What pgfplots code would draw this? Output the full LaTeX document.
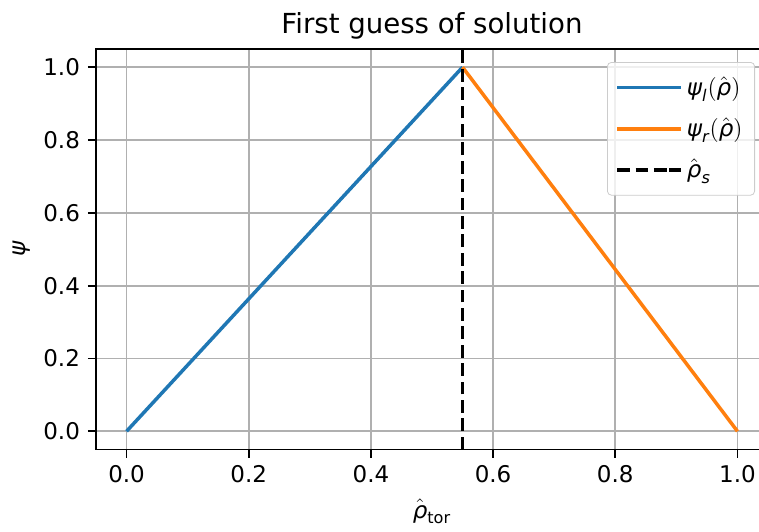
\documentclass[border=0pt]{standalone}
\usepackage{amsmath}
\usepackage{pgfplots}
\pgfplotsset{compat=1.18}
\usepackage{fontspec}
\setmainfont{DejaVu Sans}
\definecolor{mplblue}{HTML}{1F77B4}
\definecolor{mplorange}{HTML}{FF7F0E}
\newcommand{\irho}{\text{\itshape ρ}}
\newcommand{\hrho}{\hat{\irho}}
\newcommand{\ipsi}{\text{\itshape ψ}}
\newcommand{\itx}[1]{\text{\itshape #1}}
\begin{document}
\fontsize{11.5pt}{13.8pt}\selectfont
\begin{tikzpicture}
\begin{axis}[
  at={(0,0)}, anchor=south west,
  scale only axis, width=336pt, height=200.25pt,
  xmin=-0.05, xmax=1.05, ymin=-0.05, ymax=1.05,
  xtick={0,0.2,0.4,0.6,0.8,1.0},
  ytick={0,0.2,0.4,0.6,0.8,1.0},
  xticklabels={0.0,0.2,0.4,0.6,0.8,1.0},
  yticklabels={0.0,0.2,0.4,0.6,0.8,1.0},
  tick align=outside, major tick length=4pt,
  tick style={black, line width=0.9pt},
  xtick pos=bottom, ytick pos=left,
  grid=major,
  major grid style={color=black!31, line width=0.9pt},
  axis line style={line width=0.9pt},
  ticklabel style={font=\fontsize{11.5pt}{13.8pt}\selectfont},
  /pgf/number format/assume math mode=true,
  title={First guess of solution},
  every axis title/.style={at={(0.5,1)}, anchor=base, yshift=8pt, font=\fontsize{13.8pt}{16pt}\selectfont},
  xlabel={$\hrho_{\text{tor}}$},
  every axis x label/.style={at={(0.5,0)}, anchor=base, yshift=-34.25pt, font=\fontsize{11.5pt}{13.8pt}\selectfont},
  ylabel={$\ipsi$},
  every axis y label/.style={at={([xshift=-37pt]axis description cs:0,0.5)}, anchor=center, rotate=90, font=\fontsize{11.5pt}{13.8pt}\selectfont},
  legend style={at={(1,1)}, anchor=north east, xshift=-6.5pt, yshift=-6.5pt,
    draw=black!20, rounded corners=2pt, fill=white, fill opacity=0.8, text opacity=1,
    row sep=5.2pt, inner xsep=4pt, inner ysep=5pt,
    font=\fontsize{11.5pt}{13.8pt}\selectfont},
  legend cell align=left,
  legend image code/.code={\draw[#1] (0pt,0pt) -- (26pt,0pt); \path (26pt,0pt) -- (32pt,0pt);},
]
\addplot[mplblue, line width=1.75pt] coordinates {(0,0) (0.55,1)};
\addlegendentry{$\ipsi_{\itx{l}}(\hrho)$}
\addplot[mplorange, line width=1.75pt] coordinates {(0.55,1) (1,0)};
\addlegendentry{$\ipsi_{\itx{r}}(\hrho)$}
\addplot[black, line width=1.75pt, dash pattern=on 6.4pt off 2.8pt] coordinates {(0.55,-0.05) (0.55,1.05)};
\addlegendentry{$\hrho_{\itx{s}}$}
\end{axis}
\pgfresetboundingbox
\path (-48pt,-40.75pt) rectangle (331.5pt,224.75pt);
\end{tikzpicture}
\end{document}
